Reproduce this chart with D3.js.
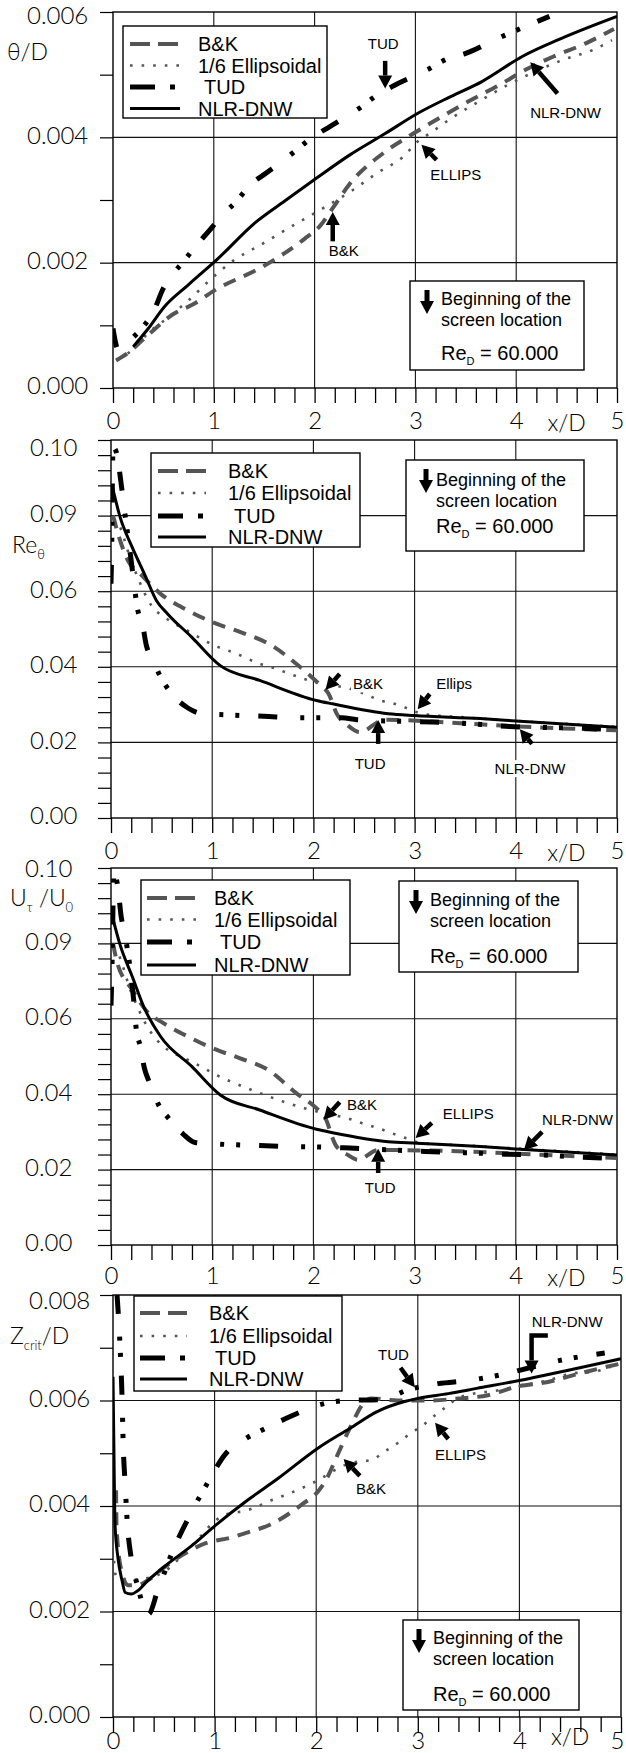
<!DOCTYPE html>
<html><head><meta charset="utf-8">
<script src="https://cdn.jsdelivr.net/npm/d3@7"></script>
<style>
html,body{margin:0;padding:0;background:#fff;}
svg{display:block;}
</style></head>
<body><svg id="c" width="626" height="1753"></svg>
<script>
// ---------- shared axis data ----------
const xTickValues = [0,1,2,3,4,5];
const xTickLabels = ["0","1","2","3","4","5"];
const seriesNames = ["B&K","1/6 Ellipsoidal","TUD","NLR-DNW"];
const screenText = ["Beginning of the","screen location"];

// ---------- panel 1: theta/D ----------
const p1_yTicks = [0,0.002,0.004,0.006];
const p1_yLabels = ["0.000","0.002","0.004","0.006"];
const p1_BK = [[0.03,0.00044],[0.15,0.00056],[0.31,0.00079],[0.6,0.00118],[0.8,0.00134],[1.0,0.00155],[1.5,0.00195],[1.9,0.00238],[2.05,0.00258],[2.18,0.00287],[2.34,0.00324],[2.7,0.00377],[2.98,0.00406],[3.26,0.00433],[3.58,0.00462],[3.86,0.00486],[4.06,0.00505],[4.37,0.00529],[4.69,0.0055],[4.97,0.00573]];
const p1_EL = [[0.05,0.00045],[0.2,0.00062],[0.35,0.00088],[0.51,0.00108],[0.75,0.0014],[0.96,0.00172],[1.2,0.00204],[1.46,0.00228],[1.74,0.00255],[2.0,0.00279],[2.38,0.00316],[2.64,0.00345],[2.88,0.00369],[3.02,0.00393],[3.14,0.00406],[3.38,0.00433],[3.66,0.0046],[3.92,0.00484],[4.19,0.00505],[4.47,0.00524],[4.77,0.0054],[4.95,0.00555]];
const p1_TUD = [[0,0.00095],[0.05,0.00062],[0.18,0.00078],[0.3,0.00098],[0.41,0.00125],[0.49,0.00156],[0.71,0.00204],[0.83,0.00228],[0.98,0.00256],[1.07,0.00274],[1.22,0.00297],[1.36,0.00324],[1.52,0.00343],[1.8,0.00377],[1.96,0.00398],[2.14,0.00416],[2.44,0.00446],[2.6,0.00465],[2.78,0.00482],[3.12,0.00508],[3.3,0.00524],[3.5,0.00534],[3.82,0.00558],[4.02,0.00572],[4.33,0.00593]];
const p1_NLR = [[0.2,0.00066],[0.35,0.00095],[0.506,0.00129],[0.75,0.00165],[1.025,0.00204],[1.42,0.00265],[1.7,0.00298],[2.02,0.00335],[2.35,0.00372],[2.7,0.00406],[3.02,0.00438],[3.35,0.00465],[3.66,0.00489],[4.06,0.00529],[4.45,0.00558],[5.0,0.00593]];
const p1_notes = [["TUD",2.68,0.0055],["NLR-DNW",4.49,0.0044],["ELLIPS",3.40,0.0034],["B&K",2.29,0.00219]];
const p1_arrows = [[[2.7,0.00522],[2.7,0.00478]],[[4.41,0.0047],[4.14,0.0052]],[[3.21,0.00364],[3.06,0.00388]],[[2.18,0.00234],[2.18,0.00281]]];

// ---------- panel 2: Re_theta ----------
const p2_yTicks = [0,0.02,0.04,0.06,0.08,0.10];
const p2_yLabels = ["0.00","0.02","0.04","0.06","0.09","0.10"];
const p2_BK = [[0.02,0.08],[0.05,0.077],[0.17,0.068],[0.29,0.0646],[0.49,0.0593],[0.76,0.0549],[1.04,0.0514],[1.28,0.0492],[1.59,0.0456],[1.83,0.0408],[2.07,0.0351],[2.15,0.0329],[2.23,0.0276],[2.34,0.0245],[2.46,0.0227],[2.7,0.026],[3.5,0.025],[4.2,0.024],[5.0,0.0232]];
const p2_EL = [[0.02,0.079],[0.05,0.0787],[0.21,0.0672],[0.41,0.0558],[0.53,0.0531],[0.78,0.0492],[0.92,0.047],[1.06,0.0452],[1.2,0.0439],[1.47,0.0408],[1.63,0.0395],[1.77,0.0381],[1.91,0.0368],[2.1,0.0355],[2.36,0.0342],[2.5,0.0329],[2.66,0.0311],[2.8,0.0302],[2.94,0.0289],[3.07,0.0276],[3.5,0.0266],[4.0,0.0257],[4.5,0.0249],[5.0,0.0241]];
const p2_TUD = [[0,0.062],[0.005,0.068],[0.02,0.098],[0.05,0.097],[0.1,0.0885],[0.13,0.082],[0.2,0.068],[0.23,0.0615],[0.26,0.0556],[0.31,0.0514],[0.35,0.0456],[0.41,0.0421],[0.49,0.0373],[0.6,0.0329],[0.76,0.0291],[0.9,0.0276],[1.12,0.0273],[1.51,0.0269],[1.87,0.0265],[2.28,0.0265],[2.43,0.026],[2.82,0.0256],[3.17,0.0254],[3.57,0.0249],[3.94,0.0242],[4.56,0.0238],[5.0,0.0234]];
const p2_NLR = [[0.01,0.088],[0.09,0.0796],[0.21,0.0716],[0.33,0.0646],[0.45,0.0575],[0.56,0.054],[0.8,0.0478],[1.08,0.0403],[1.47,0.0364],[2.03,0.0311],[2.19,0.0302],[2.74,0.0276],[3.0,0.0271],[3.65,0.0263],[4.04,0.0256],[5.0,0.024]];
const p2_notes = [["B&K",2.54,0.0354],["Ellips",3.39,0.0354],["TUD",2.56,0.0143],["NLR-DNW",4.14,0.013]];
const p2_arrows = [[[2.26,0.0381],[2.12,0.0339]],[[3.15,0.0328],[3.03,0.0288]],[[2.64,0.0196],[2.64,0.0259]],[[4.16,0.0196],[4.04,0.0235]]];

// ---------- panel 3: U_tau/U_0 ----------
const p3_yTicks = [0,0.02,0.04,0.06,0.08,0.10];
const p3_yLabels = ["0.00","0.02","0.04","0.06","0.09","0.10"];
const p3_BK = [[0.02,0.08],[0.06,0.075],[0.21,0.0677],[0.37,0.0615],[0.49,0.0593],[0.76,0.0553],[1.04,0.0518],[1.27,0.0496],[1.55,0.0465],[1.83,0.0403],[2.03,0.0363],[2.11,0.0341],[2.22,0.0265],[2.34,0.0239],[2.44,0.0226],[2.64,0.0252],[3.5,0.0248],[4.2,0.024],[5.0,0.0231]];
const p3_EL = [[0.02,0.079],[0.05,0.0783],[0.2,0.067],[0.41,0.0558],[0.5,0.0531],[0.76,0.0491],[0.92,0.0469],[1.04,0.0451],[1.18,0.0434],[1.47,0.0403],[1.61,0.0389],[1.75,0.0376],[1.91,0.0363],[2.1,0.035],[2.34,0.0336],[2.48,0.0323],[2.64,0.031],[2.78,0.0296],[2.92,0.0283],[3.07,0.027],[3.5,0.0264],[4.0,0.0256],[4.5,0.0248],[5.0,0.024]];
const p3_TUD = [[0,0.0635],[0.005,0.068],[0.03,0.0985],[0.07,0.0945],[0.1,0.0872],[0.13,0.0834],[0.23,0.0633],[0.25,0.0571],[0.29,0.0527],[0.33,0.0469],[0.38,0.0431],[0.47,0.0372],[0.57,0.0336],[0.71,0.0295],[0.83,0.0272],[1.04,0.0268],[1.45,0.0264],[1.81,0.0261],[2.2,0.0259],[2.36,0.0257],[2.76,0.0252],[3.11,0.0248],[3.49,0.0245],[3.88,0.0241],[4.26,0.0239],[4.48,0.0235],[5.0,0.023]];
const p3_NLR = [[0.01,0.0875],[0.09,0.0796],[0.21,0.0712],[0.33,0.0628],[0.49,0.0553],[0.8,0.0473],[1.08,0.0398],[1.47,0.0358],[2.03,0.0307],[2.19,0.0298],[2.74,0.0274],[3.02,0.027],[3.65,0.0261],[4.04,0.0254],[5.0,0.0239]];
const p3_notes = [["B&K",2.48,0.0371],["ELLIPS",3.53,0.0347],["NLR-DNW",4.61,0.0332],["TUD",2.66,0.0151]];
const p3_arrows = [[[2.26,0.0379],[2.10,0.0332]],[[3.17,0.0324],[3.01,0.0284]],[[4.26,0.030],[4.08,0.0252]],[[2.64,0.0191],[2.64,0.0255]]];

// ---------- panel 4: Z_crit/D ----------
const p4_yTicks = [0,0.002,0.004,0.006,0.008];
const p4_yLabels = ["0.000","0.002","0.004","0.006","0.008"];
const p4_BK = [[0.03,0.0043],[0.035,0.0036],[0.08,0.0028],[0.15,0.0025],[0.24,0.0025],[0.35,0.0026],[0.5,0.00283],[0.69,0.00308],[0.92,0.0033],[1.16,0.0034],[1.31,0.00349],[1.55,0.00365],[1.86,0.00403],[2.02,0.00428],[2.09,0.00447],[2.21,0.00497],[2.33,0.00547],[2.48,0.00598],[2.54,0.00604],[2.8,0.006],[3.09,0.006],[3.42,0.00604],[3.69,0.0061],[3.97,0.00626],[4.28,0.00635],[4.55,0.00649],[4.86,0.00664],[5.0,0.0067]];
const p4_EL = [[0.01,0.00296],[0.03,0.00267],[0.15,0.0026],[0.3,0.00262],[0.5,0.00275],[0.7,0.0031],[0.85,0.0034],[1.0,0.00371],[1.16,0.00387],[1.29,0.0039],[1.43,0.004],[1.57,0.00412],[1.7,0.00421],[1.86,0.00434],[2.0,0.00447],[2.29,0.00478],[2.41,0.00484],[2.54,0.00487],[2.68,0.00504],[2.8,0.00519],[2.93,0.00538],[3.05,0.00553],[3.17,0.00572],[3.28,0.00588],[3.42,0.00607],[3.81,0.0062],[4.04,0.00629],[4.28,0.00638],[4.51,0.00651],[4.75,0.00655],[4.9,0.00664]];
const p4_TUD = [[0.04,0.0080],[0.07,0.0070],[0.09,0.0060],[0.1,0.0052],[0.12,0.0044],[0.14,0.0037],[0.18,0.0030],[0.24,0.0025],[0.3,0.0021],[0.35,0.00195],[0.44,0.0024],[0.6,0.0032],[0.75,0.0038],[0.94,0.00447],[1.1,0.00497],[1.3,0.00527],[1.5,0.00547],[1.75,0.0057],[2.0,0.0059],[2.3,0.006],[2.65,0.00602],[2.9,0.0062],[3.2,0.00632],[3.5,0.00638],[3.8,0.00648],[4.1,0.00662],[4.4,0.00676],[4.84,0.0069]];
const p4_NLR = [[0,0.00645],[0.01,0.0049],[0.02,0.00365],[0.05,0.003],[0.09,0.00258],[0.12,0.00236],[0.18,0.00233],[0.24,0.00239],[0.34,0.00258],[0.53,0.00289],[0.77,0.00324],[1.0,0.00362],[1.31,0.00409],[1.63,0.00453],[2.02,0.0051],[2.33,0.00547],[2.6,0.00579],[2.87,0.00598],[3.0,0.00604],[3.3,0.00613],[3.58,0.00623],[4.0,0.00638],[4.47,0.00657],[5.0,0.00679]];
const p4_notes = [["NLR-DNW",4.47,0.00749],["TUD",2.76,0.00687],["ELLIPS",3.42,0.00498],["B&K",2.54,0.00432]];
const p4_arrows = [[[4.28,0.00723],[4.12,0.00723],[4.12,0.00651]],[[2.83,0.00662],[2.97,0.00625]],[[3.30,0.00527],[3.17,0.00558]],[[2.43,0.00457],[2.27,0.00489]]];

// ---------- styles ----------
const NUMFONT = "Lato, 'Open Sans', 'DejaVu Sans', sans-serif";
const TXTFONT = "'Liberation Sans', Arial, sans-serif";
const styles = {
  BK:  {stroke:"#555", width:4,   dash:"13,9",  cap:"butt"},
  EL:  {stroke:"#555", width:2.6, dash:"2.6,9", cap:"butt"},
  TUD: {stroke:"#000", width:5,   dash:"19,23,4,12,4,19", cap:"butt"},
  NLR: {stroke:"#000", width:3,   dash:null,    cap:"butt"}
};
const legendSample = {BK:"20,8", EL:"2.6,9", TUD:"25,15,5,200", NLR:null};

const svg = d3.select("#c");
let clipId = 0;

function arrow(g, pts, w){
  const n = pts.length;
  const [x2,y2] = pts[n-1], [x1,y1] = pts[n-2];
  const a = Math.atan2(y2-y1, x2-x1);
  const L = 13, W = 7;
  const bx = x2 - L*Math.cos(a), by = y2 - L*Math.sin(a);
  const shaft = pts.slice(0, n-1).concat([[bx,by]]);
  g.append("path").attr("d", d3.line()(shaft)).attr("fill","none")
    .attr("stroke","#000").attr("stroke-width", w || 4.5).attr("stroke-linejoin","miter");
  g.append("path").attr("d", d3.line()([[x2,y2],[bx+W*Math.sin(a), by-W*Math.cos(a)],[bx-W*Math.sin(a), by+W*Math.cos(a)]])+"Z")
    .attr("fill","#000");
}

function drawPanel(P){
  const g = svg.append("g");
  const x = d3.scaleLinear().domain([0,5]).range([P.left, P.right]);
  const y = d3.scaleLinear().domain([0,P.yMax]).range([P.bottom, P.top]);

  // grid
  g.append("g").selectAll("line").data(xTickValues.filter(v=>v>0 && v<5)).join("line")
    .attr("x1",d=>x(d)).attr("x2",d=>x(d)).attr("y1",P.top).attr("y2",P.bottom)
    .attr("stroke","#111").attr("stroke-width",1.1);
  g.append("g").selectAll("line").data(P.yTicks.filter(v=>v>0 && v<P.yMax-1e-12)).join("line")
    .attr("x1",P.left).attr("x2",P.right).attr("y1",d=>y(d)).attr("y2",d=>y(d))
    .attr("stroke","#111").attr("stroke-width",1.1);

  // x minor ticks (below axis)
  const xAx = g.append("g").attr("transform",`translate(0,${P.bottom})`)
    .call(d3.axisBottom(x).tickValues(d3.range(0,5.0001,0.2)).tickSize(15).tickFormat(""));
  xAx.select(".domain").remove();
  xAx.selectAll("line").attr("stroke","#000").attr("stroke-width",1.3);
  // x labels
  const xLab = g.append("g").attr("transform",`translate(0,${P.bottom})`)
    .call(d3.axisBottom(x).tickValues(xTickValues).tickSize(0).tickPadding(P.xPad).tickFormat((d,i)=>xTickLabels[i]));
  xLab.select(".domain").remove();
  xLab.selectAll("text").attr("font-family",NUMFONT).attr("font-weight",300).attr("font-size",24).attr("fill","#000")
    .attr("dx",(d)=> (d===5 && P.right>x(5)-1 && P.right>618) ? -4 : 0);
  g.append("text").attr("x",x(4.5)).attr("y",Math.min(P.bottom+P.xPad+19, 1745)).attr("text-anchor","middle")
    .attr("font-family",NUMFONT).attr("font-weight",300).attr("font-size",23).text("x/D");

  // y ticks (outside left)
  const yAx = g.append("g").attr("transform",`translate(${P.left},0)`)
    .call(d3.axisLeft(y).tickValues(d3.range(0,P.yMax+1e-12,P.minor)).tickSize(13).tickFormat(""));
  yAx.select(".domain").remove();
  yAx.selectAll("line").attr("stroke","#000").attr("stroke-width",1.2);
  // y labels
  g.append("g").selectAll("text").data(P.yTicks).join("text")
    .attr("x",P.labelX).attr("y",(d,i)=>y(d) + (i===P.yTicks.length-1 ? P.topDy : 0))
    .attr("dy","0.27em").attr("font-family",NUMFONT).attr("font-weight",300).attr("font-size",24)
    .text((d,i)=>P.yLabels[i]);

  // frame
  g.append("rect").attr("x",P.left).attr("y",P.top).attr("width",P.right-P.left).attr("height",P.bottom-P.top)
    .attr("fill","none").attr("stroke","#000").attr("stroke-width",1.4);

  // clip
  const cid = "clip"+(clipId++);
  g.append("clipPath").attr("id",cid).append("rect")
    .attr("x",P.left).attr("y",P.top).attr("width",P.right-P.left).attr("height",P.bottom-P.top);
  const plot = g.append("g").attr("clip-path",`url(#${cid})`);
  const line = d3.line().x(d=>x(d[0])).y(d=>y(d[1])).curve(d3.curveMonotoneX);
  [["EL",P.EL],["BK",P.BK],["TUD",P.TUD],["NLR",P.NLR]].forEach(([k,data])=>{
    const s = styles[k];
    plot.append("path").datum(data).attr("d",line).attr("fill","none")
      .attr("stroke",s.stroke).attr("stroke-width",s.width)
      .attr("stroke-dasharray",s.dash).attr("stroke-linecap",s.cap);
  });

  // annotations
  const ann = g.append("g");
  P.notes.forEach(([t,vx,vy])=>{
    const tx = ann.append("text").attr("x",x(vx)).attr("y",y(vy)).attr("dy","0.35em")
      .attr("text-anchor","middle").attr("font-family",TXTFONT).attr("font-size",15).text(t);
    const bb = tx.node().getBBox();
    ann.insert("rect","text").attr("x",bb.x-2).attr("y",bb.y).attr("width",bb.width+4).attr("height",bb.height).attr("fill","#fff");
  });
  P.arrows.forEach(pts=>arrow(ann, pts.map(p=>[x(p[0]),y(p[1])])));

  // legend
  const L = P.legend;
  const lg = g.append("g");
  lg.append("rect").attr("x",L.x).attr("y",L.y).attr("width",L.w).attr("height",L.h)
    .attr("fill","#fff").attr("stroke","#000").attr("stroke-width",1.4);
  ["BK","EL","TUD","NLR"].forEach((k,i)=>{
    const s = styles[k];
    lg.append("line").attr("x1",L.sx0).attr("x2",L.sx1).attr("y1",L.rows[i]).attr("y2",L.rows[i])
      .attr("stroke",s.stroke).attr("stroke-width",s.width).attr("stroke-dasharray",legendSample[k]);
    lg.append("text").attr("x",L.tx + (k==="TUD"?6:0)).attr("y",L.rows[i]).attr("dy","0.36em")
      .attr("font-family",TXTFONT).attr("font-size",20).text(seriesNames[i]);
  });

  // screen box
  const S = P.screen;
  const sg = g.append("g");
  sg.append("rect").attr("x",S.x).attr("y",S.y).attr("width",S.w).attr("height",S.h)
    .attr("fill","#fff").attr("stroke","#000").attr("stroke-width",1.4);
  arrow(sg, [[S.ax, S.y+9],[S.ax, S.y+33]], 5);
  screenText.forEach((t,i)=>{
    sg.append("text").attr("x",S.tx).attr("y",S.rows[i]).attr("dy","0.36em")
      .attr("font-family",TXTFONT).attr("font-size",18).text(t);
  });
  const re = sg.append("text").attr("x",S.tx).attr("y",S.rows[2]).attr("dy","0.36em")
    .attr("font-family",TXTFONT).attr("font-size",20);
  re.append("tspan").text("Re");
  re.append("tspan").attr("font-size",11).attr("dy",5).text("D");
  re.append("tspan").attr("dy",-5).text(" = 60.000");

  // y title
  const yt = g.append("text").attr("x",P.title.x).attr("y",P.title.y).attr("dy","0.35em")
    .attr("font-family",NUMFONT).attr("font-weight",300).attr("font-size",23);
  let prevSub = false;
  P.title.parts.forEach(([t,sub])=>{
    if (sub) yt.append("tspan").attr("font-size",13).attr("dy",6).text(t);
    else yt.append("tspan").attr("dy", prevSub ? -6 : 0).text(t);
    prevSub = sub;
  });
}

drawPanel({left:113,right:617,top:12,bottom:388,yMax:0.006,minor:0.001,
  yTicks:p1_yTicks,yLabels:p1_yLabels,labelX:27,topDy:6,xPad:24,
  BK:p1_BK,EL:p1_EL,TUD:p1_TUD,NLR:p1_NLR,notes:p1_notes,arrows:p1_arrows,
  legend:{x:123,y:26,w:204,h:92,sx0:130,sx1:180,tx:198,rows:[44,65.5,87,108.5]},
  screen:{x:410,y:281,w:174,h:89,tx:441,ax:427,rows:[299,320,353]},
  title:{x:7,y:60,parts:[["θ/D",false]]}});

drawPanel({left:111,right:617,top:440,bottom:818,yMax:0.1,minor:0.004,
  yTicks:p2_yTicks,yLabels:p2_yLabels,labelX:30,topDy:10,xPad:24,
  BK:p2_BK,EL:p2_EL,TUD:p2_TUD,NLR:p2_NLR,notes:p2_notes,arrows:p2_arrows,
  legend:{x:151,y:453,w:209,h:94,sx0:158,sx1:206,tx:228,rows:[471,493,516,537]},
  screen:{x:406,y:460,w:178,h:91,tx:436,ax:426,rows:[480,501,526]},
  title:{x:12,y:553,parts:[["Re",false],["θ",true]]}});

drawPanel({left:111,right:617,top:868,bottom:1245,yMax:0.1,minor:0.004,
  yTicks:p3_yTicks,yLabels:p3_yLabels,labelX:25,topDy:3,xPad:22,
  BK:p3_BK,EL:p3_EL,TUD:p3_TUD,NLR:p3_NLR,notes:p3_notes,arrows:p3_arrows,
  legend:{x:141,y:880,w:209,h:95,sx0:147,sx1:196,tx:214,rows:[898,919.5,942,965]},
  screen:{x:399,y:881,w:179,h:91,tx:430,ax:416,rows:[900,921,956]},
  title:{x:10,y:906,parts:[["U",false],["τ",true],[" /U",false],["0",true]]}});

drawPanel({left:113,right:621,top:1295,bottom:1717,yMax:0.008,minor:0.001,
  yTicks:p4_yTicks,yLabels:p4_yLabels,labelX:29,topDy:8,xPad:15,
  BK:p4_BK,EL:p4_EL,TUD:p4_TUD,NLR:p4_NLR,notes:p4_notes,arrows:p4_arrows,
  legend:{x:134,y:1296,w:208,h:95,sx0:140,sx1:187,tx:209,rows:[1313,1336,1358,1379]},
  screen:{x:403,y:1620,w:176,h:90,tx:433,ax:419,rows:[1638,1659,1694]},
  title:{x:10,y:1344,parts:[["Z",false],["crit",true],["/D",false]]}});
</script>
</body></html>
